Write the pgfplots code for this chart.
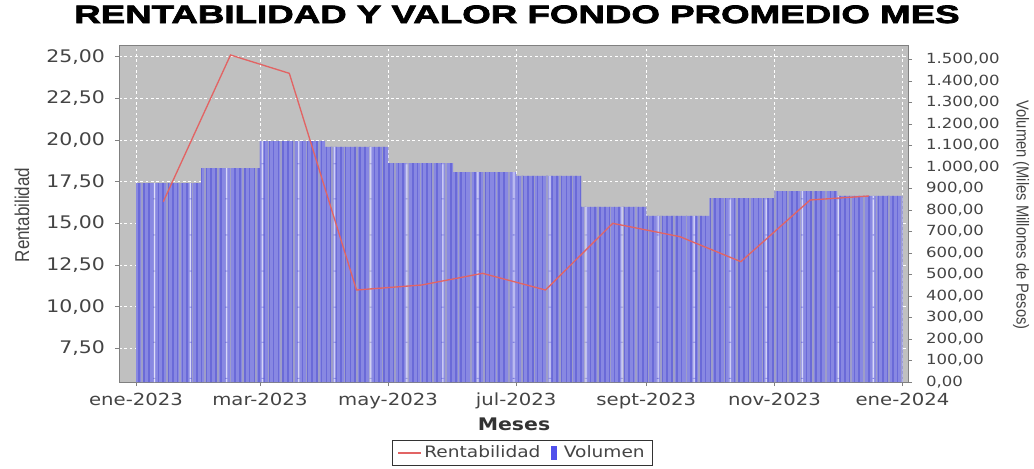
\documentclass[border=0pt]{standalone}
\usepackage{pgfplots}
\usepackage{pgfplotstable}
\pgfplotsset{compat=1.18}
\usetikzlibrary{patterns.meta}
\usepackage{fontspec}
\setmainfont{DejaVu Sans}[FakeStretch=1.18]
\newfontfamily\titlefont{Liberation Sans}[FakeStretch=1.46,BoldFeatures={FakeBold=3}]
\newfontfamily\narrowfont{Liberation Sans}[FakeStretch=0.85]
\newfontfamily\tickfont{DejaVu Sans}[FakeStretch=1.18]

\definecolor{bggrey}{RGB}{192,192,192}
\definecolor{framegrey}{RGB}{128,128,128}
\definecolor{txtgrey}{RGB}{68,68,68}
\definecolor{barblue}{RGB}{136,136,226}
\definecolor{bardark}{RGB}{106,106,216}
\definecolor{barlight}{RGB}{158,158,200}
\definecolor{barwhite}{RGB}{225,225,252}
\definecolor{linered}{RGB}{226,100,100}
\definecolor{legblue}{RGB}{80,80,235}

\pgfplotstableread{
day vol
0   925
31  995
59  1120
90  1093
120 1018
151 976
181 958
212 814
243 772
273 855
304 888
334 865
365 865
}\voltable

\pgfplotstableread{
day rent
13  16.30
45  25.10
73  24.00
105 11.00
136 11.30
165 12.00
195 11.00
227 15.00
259 14.20
288 12.70
321 16.40
349 16.64
}\renttable

\pgfplotsset{
  common/.style={
    scale only axis, width=591.75pt, height=252.75pt,
    xmin=-8.1, xmax=367.6, at={(0,0)}, anchor=south west,
  },
}

\begin{document}
\begin{tikzpicture}
\useasboundingbox (-89.25pt,-64.5pt) rectangle (686.25pt,286.5pt);

% Axis 1: left axis, background, grid, x ticks
\begin{axis}[common,
  ymin=5.48, ymax=25.70,
  axis background/.style={fill=bggrey},
  axis line style={draw=framegrey, line width=0.6pt},
  xtick={0,59,120,181,243,304,365},
  xticklabels={ene-2023,mar-2023,may-2023,jul-2023,sept-2023,nov-2023,ene-2024},
  ytick={7.5,10,12.5,15,17.5,20,22.5,25},
  tick align=outside, xtick pos=bottom, ytick pos=left,
  major tick length=3pt,
  tick style={draw=framegrey, line width=0.6pt},
  grid=major,
  major grid style={white, line width=0.6pt, dash pattern=on 2pt off 2pt},
  scaled y ticks=false,
  yticklabel style={font=\fontsize{13pt}{15pt}\tickfont, text=txtgrey, xshift=-4pt,
    /pgf/number format/.cd, fixed, fixed zerofill, precision=2, use comma, assume math mode=true},
  xticklabel style={font=\fontsize{12.5pt}{15pt}\tickfont, text=txtgrey, yshift=-1.5pt},
  xlabel={Meses},
  xlabel style={font=\fontsize{13pt}{15pt}\tickfont\bfseries, text=black!80,
    at={(axis description cs:0.5006,-0.1246)}, anchor=center},
  ylabel={Rentabilidad},
  ylabel style={font=\fontsize{15pt}{17pt}\narrowfont, text=txtgrey,
    at={(axis description cs:-0.1229,0.4955)}, anchor=center, rotate=0},
  title={RENTABILIDAD Y VALOR FONDO PROMEDIO MES},
  title style={font=\fontsize{18.85pt}{21pt}\titlefont\bfseries, text=black,
    at={(axis description cs:0.5044,1.0415)}, anchor=base},
]
\addplot[draw=none, forget plot] table[x=day,y=rent]{\renttable};
\end{axis}

% Axis 2: right axis, bars
\begin{axis}[common,
  ymin=0, ymax=1567,
  axis x line=none, axis y line*=right,
  y axis line style={draw=framegrey, line width=0.6pt},
  ytick={0,100,...,1500},
  tick align=outside, major tick length=3pt,
  tick style={draw=framegrey, line width=0.6pt},
  scaled y ticks=false,
  yticklabel style={font=\fontsize{10.5pt}{12pt}\tickfont, text=txtgrey, xshift=7pt,
    /pgf/number format/.cd, fixed, fixed zerofill, precision=2, use comma, assume math mode=true},
  ylabel={Volumen (Miles Millones de Pesos)},
  ylabel style={font=\fontsize{13pt}{15pt}\narrowfont, text=txtgrey,
    at={(axis description cs:1.1432,0.4955)}, anchor=center, rotate=180},
]
\addplot[ybar interval, fill=barblue, draw=none,
  postaction={pattern={Lines[angle=90,distance=3.6pt,line width=1.1pt]}, pattern color=bardark},
  postaction={pattern={Lines[angle=90,distance=9.5pt,line width=1.3pt,xshift=1.8pt]}, pattern color=barlight},
  postaction={pattern={Lines[angle=90,distance=27pt,line width=1.1pt,xshift=7pt]}, pattern color=barwhite}]
  table[x=day,y=vol]{\voltable};
\end{axis}

% Axis 3: line and legend
\begin{axis}[common,
  ymin=5.48, ymax=25.70,
  axis lines=none, ticks=none,
  legend columns=2,
  legend style={at={(axis description cs:0.5114,-0.2107)}, anchor=center,
    draw=black!80, line width=0.6pt, fill=white,
    font=\fontsize{11.8pt}{14pt}\tickfont, text=txtgrey,
    inner xsep=4pt, inner ysep=2pt,
    /tikz/every even column/.append style={column sep=6pt}},
  legend cell align=left,
]
\addplot[linered, line width=1pt] table[x=day,y=rent]{\renttable};
\addlegendentry{Rentabilidad}
\addlegendimage{legend image code/.code={\fill[legblue] (0.05em,-0.45em) rectangle (0.45em,0.5em);}}
\addlegendentry{\hspace{3pt}Volumen}
\end{axis}
\end{tikzpicture}
\end{document}
